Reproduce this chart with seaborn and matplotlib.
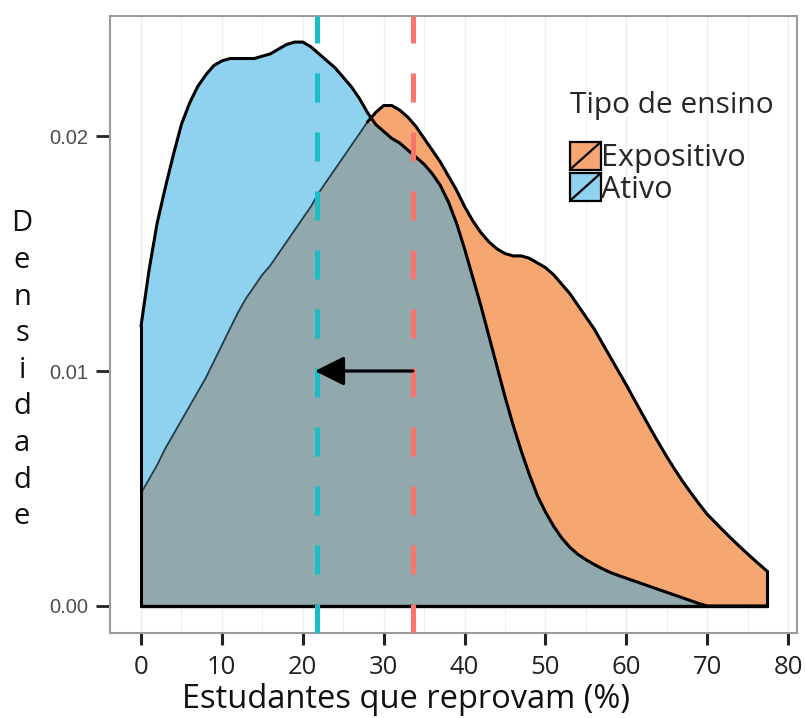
import numpy as np
import pandas as pd
import matplotlib
matplotlib.use("Agg")
import matplotlib.pyplot as plt
import seaborn as sns
from matplotlib.patches import Patch, Rectangle
from matplotlib.lines import Line2D
from matplotlib.legend_handler import HandlerBase

# ---------------- data ----------------
x_pct = list(range(0, 78)) + [77.4]
dens_ativo = [0.0119, 0.0143, 0.0163, 0.0178, 0.0192, 0.0205, 0.0214, 0.0221, 0.0226, 0.0230,
              0.0232, 0.0233, 0.0233, 0.0233, 0.0233, 0.0234, 0.0235, 0.0237, 0.0239, 0.0240,
              0.0240, 0.0238, 0.0235, 0.0232, 0.0229, 0.0225, 0.0221, 0.0216, 0.0210, 0.0205,
              0.0202, 0.0199, 0.0197, 0.0194, 0.0191, 0.0188, 0.0184, 0.0179, 0.0172, 0.0163,
              0.0152, 0.0140, 0.0128, 0.0115, 0.0102, 0.0089, 0.0077, 0.0066, 0.0056, 0.0047,
              0.0040, 0.0034, 0.0029, 0.0025, 0.0022, 0.00197, 0.00177, 0.00159, 0.00143, 0.00130,
              0.00118, 0.00106, 0.00094, 0.00082, 0.00070, 0.00058, 0.00046, 0.00034, 0.00022, 0.00010,
              0.0000, 0.0, 0.0, 0.0, 0.0, 0.0, 0.0, 0.0, 0.0]
dens_expositivo = [0.0048, 0.0054, 0.0060, 0.0067, 0.0073, 0.0079, 0.0085, 0.0091, 0.0097, 0.0104,
                   0.0111, 0.0118, 0.0125, 0.0131, 0.0136, 0.0141, 0.0145, 0.0150, 0.0155, 0.0160,
                   0.0165, 0.0170, 0.0176, 0.0181, 0.0186, 0.0191, 0.0196, 0.0201, 0.0206, 0.0210,
                   0.0213, 0.0213, 0.0211, 0.0208, 0.0204, 0.0199, 0.0194, 0.0189, 0.0183, 0.0177,
                   0.0170, 0.0164, 0.0159, 0.0155, 0.0152, 0.0150, 0.0149, 0.0149, 0.0148, 0.0146,
                   0.0144, 0.0141, 0.0137, 0.0133, 0.0128, 0.0123, 0.0118, 0.0112, 0.0106, 0.0100,
                   0.0094, 0.00877, 0.00815, 0.00753, 0.00693, 0.00635, 0.00580, 0.00528, 0.00480, 0.00434,
                   0.00390, 0.00355, 0.00320, 0.00286, 0.00253, 0.00221, 0.00190, 0.00160, 0.00148]
mean_ativo = 21.7
mean_expositivo = 33.6
groups = ["Expositivo", "Ativo"]
x_ticks = [0, 10, 20, 30, 40, 50, 60, 70, 80]
y_ticks = [0.00, 0.01, 0.02]
y_tick_labels = ["0.00", "0.01", "0.02"]

# ---------------- styling ----------------
sns.set_theme(style="white")
plt.rcParams["font.family"] = ["Open Sans", "DejaVu Sans"]

c_blue = "#8fd2f0"
c_orange = "#f6a670"
c_gray = "#91a8ad"
c_cyan = "#19bfc4"
c_red = "#f8766d"

x = np.array(x_pct, dtype=float)
b = np.array(dens_ativo)
o = np.array(dens_expositivo)

fig = plt.figure(figsize=(8.05, 7.18), dpi=100)
ax = fig.add_axes([110 / 805, 1 - 633 / 718, (797 - 110) / 805, (633 - 16) / 718])
ax.set_facecolor("white")

# faint vertical grid
for gx in np.arange(0, 81, 5):
    ax.axvline(gx, color="#eeeeee", lw=1.0 if gx % 10 == 0 else 0.6, zorder=0)

# fills
ax.fill_between(x, 0, b, color=c_blue, lw=0, zorder=1)
ax.fill_between(x, 0, o, color=c_orange, lw=0, zorder=1)
ax.fill_between(x, 0, np.minimum(b, o), color=c_gray, lw=0, zorder=2)

# outlines
ax.plot(x, o, color="#1f3c4c", lw=1.3, zorder=3)
i0 = int(np.argmax(o >= b)) - 1
ax.plot(x[i0:], o[i0:], color="black", lw=2.2, zorder=4, solid_capstyle="round",
        solid_joinstyle="round")
ax.plot([x[-1], x[-1]], [0, o[-1]], color="black", lw=2.2, zorder=4)
df_b = pd.DataFrame({"x": x, "y": b})
sns.lineplot(data=df_b, x="x", y="y", color="black", lw=2.2, ax=ax, zorder=4, sort=False)
ax.plot([0, 0], [0, b[0]], color="black", lw=2.2, zorder=4)
ax.plot([0, x[-1]], [0, 0], color="black", lw=2.4, zorder=4)

# mean lines
ax.axvline(mean_ativo, color=c_cyan, lw=3.6, dashes=(5.8, 6), zorder=5)
ax.axvline(mean_expositivo, color=c_red, lw=3.6, dashes=(5.8, 6), zorder=5)

# arrow
ax.annotate("", xy=(mean_ativo - 0.2, 0.01), xytext=(mean_expositivo, 0.01),
            arrowprops=dict(arrowstyle="-|>,head_length=0.6,head_width=0.3",
                            color="black", lw=2.3, mutation_scale=30,
                            shrinkA=0, shrinkB=0), zorder=6)

ax.set_xlim(-3.83, 81.09)
ax.set_ylim(-0.00115, 0.02511)
ax.set_xticks(x_ticks)
ax.set_xticklabels([str(t) for t in x_ticks], fontsize=18.5, color="#222222")
ax.set_yticks(y_ticks)
ax.set_yticklabels(y_tick_labels, fontsize=14.5, color="#4d4d4d",
                   family=["Liberation Sans", "DejaVu Sans"])
ax.tick_params(axis="x", bottom=True, direction="out", length=8.5, width=2.2,
               color="#222222", pad=7)
ax.tick_params(axis="y", left=True, direction="out", length=10, width=2.0,
               color="#222222", pad=6)
ax.set_xlabel("")
ax.set_ylabel("")
for sp in ax.spines.values():
    sp.set_color("#9a9a9a")
    sp.set_linewidth(1.5)

# legend
class BoxDiag(HandlerBase):
    def create_artists(self, legend, orig_handle, xdescent, ydescent, width, height,
                       fontsize, trans):
        r = Rectangle((-xdescent, -ydescent), width, height,
                      facecolor=orig_handle.get_facecolor(), edgecolor="black",
                      lw=1.6, transform=trans)
        l = Line2D([-xdescent, -xdescent + width], [-ydescent, -ydescent + height],
                   color="black", lw=1.6, transform=trans)
        return [r, l]

handles = [Patch(facecolor=c_orange), Patch(facecolor=c_blue)]
leg = ax.legend(handles, groups, handler_map={Patch: BoxDiag()},
                loc="upper left", bbox_to_anchor=((570 - 110) / 687, (633 - 91) / 617),
                frameon=False, fontsize=22, title="Tipo de ensino",
                title_fontsize=21.5, alignment="left", handlelength=1.0,
                handleheight=1.0, handletextpad=0.0, labelspacing=0.0,
                borderpad=0.0, borderaxespad=0.0)
leg._legend_box.sep = 16

# axis labels
fig.text(406 / 805, 1 - 700 / 718, "Estudantes que reprovam (%)", fontsize=23.5,
         ha="center", va="center", color="#111111")
ylab = "Densidade"
for i, ch in enumerate(ylab):
    yy = 224 + i * 36.6
    fig.text(22 / 805, 1 - yy / 718, ch, fontsize=21, ha="center", va="center",
             color="#111111")

fig.savefig("out.png", dpi=100)
